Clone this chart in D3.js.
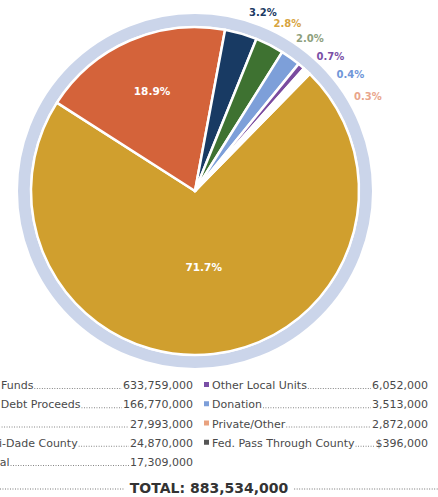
<!DOCTYPE html>
<html>
<head>
<meta charset="utf-8">
<script src="https://cdn.jsdelivr.net/npm/d3@7"></script>
<style>
  body { margin: 0; background: #fff; }
  svg { display: block; font-family: "DejaVu Sans", sans-serif; }
</style>
</head>
<body>
<script>
// funding sources, in pie order
const categories = ["Local Funds", "Bond Debt Proceeds", "State", "Miami-Dade County", "Federal",
    "Other Local Units", "Donation", "Private/Other", "Fed. Pass Through County"];
const amounts = [633759000, 166770000, 27993000, 24870000, 17309000, 6052000, 3513000, 2872000, 396000];
const amountLabels = ["633,759,000", "166,770,000", "27,993,000", "24,870,000", "17,309,000",
    "6,052,000", "3,513,000", "2,872,000", "$396,000"];
const percentLabels = ["71.7%", "18.9%", "3.2%", "2.8%", "2.0%", "0.7%", "0.4%", "0.3%", ""];
const totalLabel = "TOTAL: 883,534,000";

const sliceColors = ["#d09f2e", "#d4633a", "#183a63", "#3e7231", "#7d9fd9", "#7a4b9f", "#ffffff", "#ffffff", "#ffffff"];
const labelColors = ["#fff", "#fff", "#1c3a63", "#d7a43f", "#8e9f7d", "#7a4fa6", "#7096d8", "#e9a58b", "#555"];
const legendColors = ["#d09f2e", "#d4633a", "#183a63", "#d09f2e", "#3e7231", "#7a4fa6", "#7d9fd9", "#e9a27f", "#555"];

const width = 438, height = 497;
const cx = 195, cy = 191, radius = 164;

const svg = d3.select("body").append("svg")
    .attr("width", width)
    .attr("height", height);

// light ring around the pie
svg.append("circle")
    .attr("cx", cx).attr("cy", cy)
    .attr("r", radius + 7)
    .attr("fill", "none")
    .attr("stroke", "#cbd5ea")
    .attr("stroke-width", 12);

const start = 44.4 * Math.PI / 180;
const pie = d3.pie().sort(null).startAngle(start).endAngle(start + 2 * Math.PI);
const arcs = pie(amounts);
const arc = d3.arc().innerRadius(0).outerRadius(radius);

const g = svg.append("g").attr("transform", "translate(" + cx + "," + cy + ")");

g.selectAll("path")
    .data(arcs)
    .join("path")
    .attr("d", arc)
    .attr("fill", (d, i) => sliceColors[i])
    .attr("stroke", "#fff")
    .attr("stroke-width", 2.5)
    .attr("stroke-linejoin", "round");

// big slices: label inside
const labelArcs = [
    d3.arc().innerRadius(radius * 0.47).outerRadius(radius * 0.47),
    d3.arc().innerRadius(radius * 0.66).outerRadius(radius * 0.66)
];
g.selectAll("text.big")
    .data(arcs.slice(0, 2))
    .join("text")
    .attr("class", "big")
    .attr("transform", (d, i) => "translate(" + labelArcs[i].centroid(d) + ")")
    .attr("text-anchor", "middle")
    .attr("dy", "0.35em")
    .attr("fill", "#fff")
    .attr("font-weight", 700)
    .attr("font-size", 10.5)
    .text((d, i) => percentLabels[i]);

// small slices: staggered labels outside the ring
const small = arcs.slice(2, 8);
small.forEach((d, k) => {
    const a = (20.8 + k * 8.1) * Math.PI / 180;
    const r = 191 + Math.max(0, k - 3) * 3;
    g.append("text")
        .attr("x", Math.sin(a) * r)
        .attr("y", -Math.cos(a) * r)
        .attr("text-anchor", "middle")
        .attr("dy", "0.35em")
        .attr("fill", labelColors[k + 2])
        .attr("font-weight", 700)
        .attr("font-size", 10)
        .text(percentLabels[k + 2]);
});

// legend
const rowY = d3.scaleLinear().domain([0, 4]).range([389, 466]);
const columns = [
    { items: d3.range(0, 5), x0: -31, x1: 193 },
    { items: d3.range(5, 9), x0: 212, x1: 428 }
];
const legend = svg.append("g").attr("font-size", 11).attr("fill", "#4a4a4a");

columns.forEach(col => {
    col.items.forEach((idx, r) => {
        const y = rowY(r);
        legend.append("rect")
            .attr("x", col.x0 - 8).attr("y", y - 7)
            .attr("width", 5).attr("height", 5)
            .attr("fill", legendColors[idx]);
        const lab = legend.append("text")
            .attr("x", col.x0).attr("y", y)
            .text(categories[idx]);
        const val = legend.append("text")
            .attr("x", col.x1).attr("y", y)
            .attr("text-anchor", "end")
            .text(amountLabels[idx]);
        const labEnd = col.x0 + lab.node().getComputedTextLength() + 1;
        const valStart = col.x1 - val.node().getComputedTextLength() - 1;
        legend.append("line")
            .attr("x1", labEnd).attr("x2", valStart)
            .attr("y1", y - 0.5).attr("y2", y - 0.5)
            .attr("stroke", "#777")
            .attr("stroke-width", 1)
            .attr("stroke-dasharray", "0.9,1.6");
    });
});

// total line
const totalY = 493;
const total = svg.append("text")
    .attr("x", 209).attr("y", totalY)
    .attr("text-anchor", "middle")
    .attr("font-weight", 700)
    .attr("font-size", 14)
    .attr("fill", "#333")
    .text(totalLabel);
const tw = total.node().getComputedTextLength();
[[0, 209 - tw / 2 - 6], [209 + tw / 2 + 6, width]].forEach(([a, b]) => {
    svg.append("line")
        .attr("x1", a).attr("x2", b)
        .attr("y1", totalY - 4).attr("y2", totalY - 4)
        .attr("stroke", "#666")
        .attr("stroke-width", 1)
        .attr("stroke-dasharray", "0.9,1.6");
});
</script>
</body>
</html>
